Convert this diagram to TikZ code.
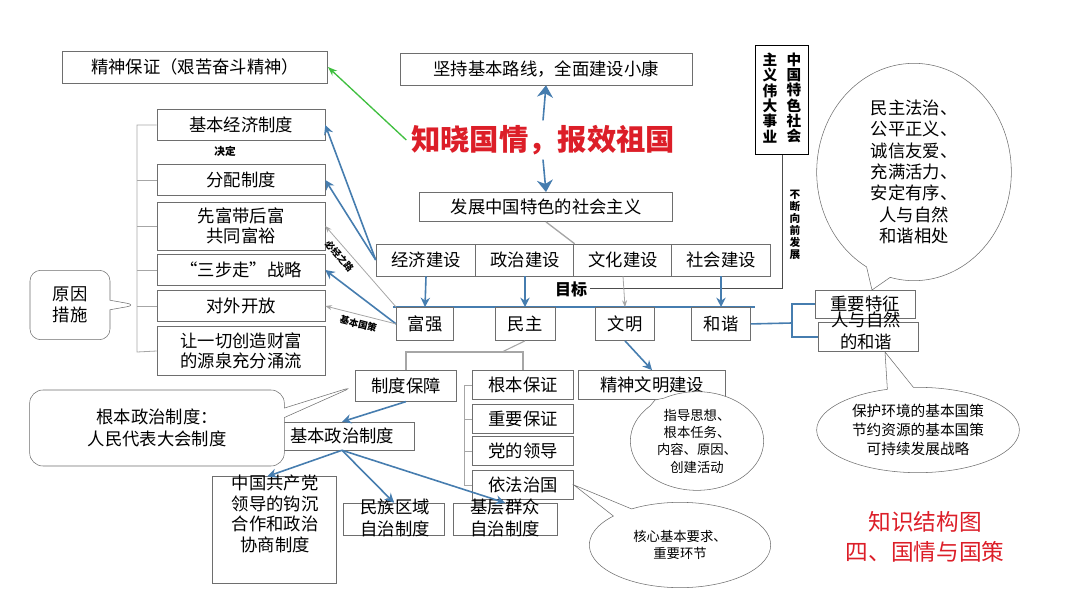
\documentclass[tikz,border=0pt]{standalone}
\usepackage{fontspec}
\setmainfont{Noto Sans CJK SC}
\usetikzlibrary{arrows.meta,shapes.callouts}
\definecolor{ln}{RGB}{70,125,175}
\definecolor{bd}{RGB}{110,110,110}
\definecolor{tr}{RGB}{220,30,40}
\tikzset{
  bx/.style={draw=bd,fill=white,inner sep=1pt,align=center,font=\fontsize{13}{15.5}\selectfont},
  ar/.style={draw=ln,line width=1.6pt,-{Stealth[length=7pt,width=7pt]}},
  thin/.style={draw=gray!70,line width=0.6pt,-{Stealth[length=5pt]}},
  ln/.style={draw=ln,line width=1.2pt},
  gl/.style={draw=gray!70,line width=0.6pt},
  bub/.style={ellipse callout,draw=bd,fill=white,align=center,font=\fontsize{10}{13}\selectfont,inner sep=0pt},
  small/.style={font=\fontsize{8}{10}\selectfont\bfseries}
}
\begin{document}
\begin{tikzpicture}[x=0.75pt,y=-0.75pt]
\useasboundingbox (0,0) rectangle (1080,602);
% top
\node[bx,minimum width=199pt,minimum height=24pt] (jing) at (195,67) {精神保证（艰苦奋斗精神）};
\node[bx,minimum width=219pt,minimum height=24pt] (jian) at (546,69) {坚持基本路线，全面建设小康};
\node[font=\fontsize{22}{24}\selectfont\bfseries,text=tr] (title) at (543,140) {知晓国情，报效祖国};
\draw[line width=3pt,ln,-{Stealth[length=9pt,width=12pt]}] (title.north) -- (jian.south);
\node[bx,minimum width=190pt,minimum height=22pt] (fz) at (546,207) {发展中国特色的社会主义};
\draw[line width=3pt,ln,-{Stealth[length=9pt,width=12pt]}] (title.south) -- (fz.north);
\draw[draw=green!50!gray,line width=1pt,-{Stealth[length=7pt]}] (title.west) -- (jing.east);
% row
\node[bx,minimum width=75pt,minimum height=24pt] (jj) at (426,260) {经济建设};
\node[bx,minimum width=74pt,minimum height=24pt] (zz) at (525,260) {政治建设};
\node[bx,minimum width=74pt,minimum height=24pt] (wh) at (623,260) {文化建设};
\node[bx,minimum width=74pt,minimum height=24pt] (sh) at (721,260) {社会建设};
\draw[gl,line width=1pt] (fz.south) -- (zz.north east);
% vertical box
\node[draw=black,minimum width=40pt,minimum height=82pt,fill=white] (zy) at (782,100) {};
\node[font=\fontsize{11}{11.5}\selectfont\bfseries,align=center] at (794,98) {中\\国\\特\\色\\社\\会};
\node[font=\fontsize{11}{11.5}\selectfont\bfseries,align=center] at (770,98) {主\\义\\伟\\大\\事\\业};
\node[small,align=center,font=\fontsize{8}{9}\selectfont\bfseries] at (795,225) {不\\断\\向\\前\\发\\展};
\coordinate (c1) at (782,288);
\coordinate (c2) at (590,288);
\draw[draw=black!70,line width=0.6pt] (zy.south) -- (c1) -- (c2);
\node[font=\fontsize{12}{14}\selectfont\bfseries] (mb) at (571,289) {目标};
% goals
\coordinate (g1) at (393,307); \coordinate (g2) at (755,307);
\draw[ln] (g1) -- (g2);
\node[bx,minimum width=43pt,minimum height=25pt,anchor=north] (fq) at (425,307) {富强};
\node[bx,minimum width=45pt,minimum height=25pt,anchor=north] (mz) at (525,307) {民主};
\node[bx,minimum width=44pt,minimum height=25pt,anchor=north] (wm) at (625,307) {文明};
\node[bx,minimum width=44pt,minimum height=25pt,anchor=north] (hx) at (721,307) {和谐};
\draw[ar,line width=1.2pt] (jj.south) -- (fq.north);
\draw[ar,line width=1.2pt] (zz.south) -- (mz.north);
\draw[thin] (wh.south) -- (wm.north);
\draw[ar,line width=1.2pt] (sh.south) -- (hx.north);
% right
\node[bx,minimum width=75pt,minimum height=21pt] (zt) at (865,304) {重要特征};
\node[draw=bd,fill=white,minimum width=75pt,minimum height=22pt] (rz) at (868,337) {};
\node[font=\fontsize{13}{16}\selectfont,align=center] at (866,331) {人与自然\\的和谐};
\coordinate (b1) at (792,323);
\draw[ln] (hx.east) -- (b1);
\draw[ln] (zt.west) -| (b1) |- (rz.west);
\node[bub,minimum width=146pt,minimum height=163pt,callout absolute pointer={(872,290)},font=\fontsize{13}{16}\selectfont] (bb1) at (914,172) {民主法治、\\公平正义、\\诚信友爱、\\充满活力、\\安定有序、\\人与自然\\和谐相处};
\node[bub,minimum width=152pt,minimum height=64pt,callout absolute pointer={(885,352)},font=\fontsize{11}{14}\selectfont] (bb2) at (918,430) {保护环境的基本国策\\节约资源的基本国策\\可持续发展战略};
% left list
\node[bx,minimum width=126pt,minimum height=23pt] (l1) at (241,125) {基本经济制度};
\node[small] (jd) at (225,151) {决定};
\node[bx,minimum width=126pt,minimum height=23pt] (l2) at (241,180) {分配制度};
\node[bx,minimum width=126pt,minimum height=36pt] (l3) at (241,226) {先富带后富\\共同富裕};
\node[bx,minimum width=126pt,minimum height=23pt] (l4) at (241,270) {“三步走”战略};
\node[bx,minimum width=126pt,minimum height=23pt] (l5) at (241,306) {对外开放};
\node[bx,minimum width=126pt,minimum height=37pt] (l6) at (241,351) {让一切创造财富\\的源泉充分涌流};
\coordinate (lt) at (137,125); \coordinate (lb) at (137,352); \coordinate (lm) at (137,305);
\draw[gl] (l1.west) -- (lt) -- (lb) -- (l6.west);
\foreach \n in {l2,l3,l4,l5} \draw[gl] (\n.west) -- (\n.west -| lt);
\node[rectangle callout,rounded corners=8pt,draw=bd,fill=white,minimum width=60pt,minimum height=52pt,align=center,font=\fontsize{13}{16}\selectfont,callout absolute pointer={(lm)}] (yy) at (70,305) {原因\\措施};
\draw[ar,line width=1.2pt] (jj.west) -- (l1.east);
\draw[ar,line width=1.2pt] (jj.west) -- (l2.east);
\draw[ar,line width=1.2pt] (fq.west) -- (l4.east);
\draw[thin] (fq.west) -- node[small,sloped,below,font=\fontsize{7}{8}\selectfont\bfseries,pos=0.5] {基本国策} (l5.east);
\draw[thin] (fq.north west) -- node[small,sloped,below,font=\fontsize{7}{8}\selectfont\bfseries,pos=0.7] {必经之路} (l3.east);
% democracy
\node[bx,minimum width=76pt,minimum height=23pt] (zd) at (406,386) {制度保障};
\node[bx,minimum width=76pt,minimum height=22pt] (k1) at (523,385) {根本保证};
\node[bx,minimum width=76pt,minimum height=22pt] (k2) at (523,419) {重要保证};
\node[bx,minimum width=76pt,minimum height=22pt] (k3) at (523,451) {党的领导};
\node[bx,minimum width=76pt,minimum height=22pt] (k4) at (523,485) {依法治国};
\coordinate (dm) at (502,352);
\draw[gl,line width=0.8pt] (mz.south) -- (dm);
\draw[gl,line width=0.8pt] (zd.north) |- (dm) -| (k1.north);
\coordinate (kt) at (464,385); \coordinate (kb) at (464,485);
\draw[gl] (k1.west) -- (kt) -- (kb) -- (k4.west);
\draw[gl] (k2.west) -- (k2.west -| kt);
\draw[gl] (k3.west) -- (k3.west -| kt);
\node[bx,minimum width=110pt,minimum height=22pt] (wmj) at (652,385) {精神文明建设};
\draw[ar,line width=1.2pt] (wm.south) -- (wmj.north);
\node[bx,minimum width=108pt,minimum height=21pt] (jbz) at (342,436) {基本政治制度};
\draw[ar,line width=1.2pt] (zd.south) -- (jbz.north);
\node[draw=bd,minimum width=93pt,minimum height=80pt] (gc) at (274,530) {};
\node[font=\fontsize{13}{15.5}\selectfont,align=center] at (275,514) {中国共产党\\领导的钩沉\\合作和政治\\协商制度};
\node[draw=bd,minimum width=76pt,minimum height=24pt] (mzq) at (394,519) {};
\node[font=\fontsize{13}{16}\selectfont,align=center] at (395,518) {民族区域\\自治制度};
\node[draw=bd,minimum width=78pt,minimum height=24pt] (jc) at (505,519) {};
\node[font=\fontsize{13}{16}\selectfont,align=center] at (505,518) {基层群众\\自治制度};
\draw[ar,line width=1.2pt] (jbz.south) -- ([xshift=-5pt]gc.north);
\draw[ar,line width=1.2pt] (jbz.south) -- (mzq.north);
\draw[ar,line width=1.2pt] (jbz.south) -- (jc.north);
\node[rectangle callout,rounded corners=10pt,draw=bd,fill=white,minimum width=191pt,minimum height=57pt,align=center,font=\fontsize{13}{16}\selectfont,callout absolute pointer={(zd.west)}] (gb) at (157,428) {根本政治制度：\\人民代表大会制度};
\node[bub,minimum width=100pt,minimum height=74pt,callout absolute pointer={(655,400)}] (zx) at (697,441) {指导思想、\\根本任务、\\内容、原因、\\创建活动};
\node[bub,minimum width=136pt,minimum height=64pt,callout absolute pointer={(k4.east)}] (hx2) at (680,545) {核心基本要求、\\重要环节};
% bottom-right title
\node[text=tr,font=\fontsize{17}{22}\selectfont,align=center] (kz) at (925,537) {知识结构图\\四、国情与国策};
\end{tikzpicture}
\end{document}
